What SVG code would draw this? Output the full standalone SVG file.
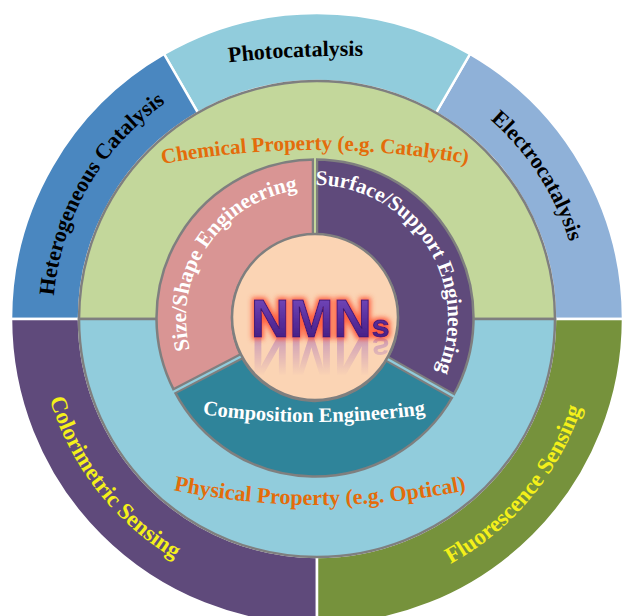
<svg xmlns="http://www.w3.org/2000/svg" width="626" height="616" viewBox="0 0 626 616">
<style>
  .t { font-family: "Liberation Serif", "Times New Roman", serif; font-weight: bold; text-anchor: middle; }
  .out { stroke: #ffffff; stroke-width: 2.5; }
  .ring { stroke: #7f7f7f; stroke-width: 2.5; }
  .blk { fill: #000000; font-size: 22px; }
  .yel { fill: #f4f01a; font-size: 23px; }
  .org { fill: #e46c0a; font-size: 21px; }
  .wht { fill: #ffffff; font-size: 21px; }
  .gapg { stroke: #7f7f7f; stroke-width: 6.5; }
  .nm { font-family: "Liberation Sans", Arial, sans-serif; font-weight: bold; }
</style>
<defs>
  <path id="pPhoto" d="M 206 65.1 Q 296 53.2 386 56.6"/>
  <path id="pHet" d="M 54 342 A 264 264 0 0 1 205.4 79.7"/>
  <path id="pElec" d="M 415.9 74.2 A 264 264 0 0 1 580.8 328.2"/>
  <path id="pColor" d="M 38.4 333.6 A 279 279 0 0 0 235.4 585.8"/>
  <path id="pFluor" d="M 389.2 588.5 A 279 279 0 0 0 594.9 343.3"/>
  <path id="pChem" d="M 150 166.3 A 843 843 0 0 1 480 166.3"/>
  <path id="pPhys" d="M 160 487.25 A 730 730 0 0 0 480 487.25"/>
  <path id="pSize" d="M 193.8 362.1 A 129 129 0 0 1 310.5 189.1"/>
  <path id="pSurf" d="M 303.4 185.5 A 133 133 0 0 1 431.3 382.5"/>
  <path id="pComp" d="M 184 411.4 A 800 800 0 0 0 444 411.4"/>
  <linearGradient id="nmFill" x1="0" y1="0" x2="0" y2="1">
    <stop offset="0" stop-color="#7b52c4"/>
    <stop offset="0.5" stop-color="#5a2f9e"/>
    <stop offset="1" stop-color="#3f1a7a"/>
  </linearGradient>
  <filter id="glow" x="-20%" y="-40%" width="140%" height="180%">
    <feMorphology in="SourceAlpha" operator="dilate" radius="1.5" result="d"/>
    <feGaussianBlur in="d" stdDeviation="2.5" result="b"/>
    <feFlood flood-color="#ff4a2a" flood-opacity="0.85"/>
    <feComposite in2="b" operator="in" result="g"/>
    <feMerge><feMergeNode in="g"/><feMergeNode in="SourceGraphic"/></feMerge>
  </filter>
  <linearGradient id="fade" gradientUnits="userSpaceOnUse" x1="0" y1="338" x2="0" y2="376">
    <stop offset="0" stop-color="#fff" stop-opacity="0.75"/>
    <stop offset="1" stop-color="#fff" stop-opacity="0"/>
  </linearGradient>
  <mask id="refMask" maskUnits="userSpaceOnUse" x="230" y="336" width="180" height="45">
    <rect x="230" y="336" width="180" height="45" fill="url(#fade)"/>
  </mask>
</defs>

<rect width="626" height="616" fill="#ffffff"/>

<g id="outer-ring">
  <path id="electrocatalysis" class="out" fill="#8fb1d8" d="M 623 319 A 306 306 0 0 0 470 54 L 436 112.9 A 238 238 0 0 1 555 319 Z"/>
  <path id="photocatalysis" class="out" fill="#91ccdc" d="M 470 54 A 306 306 0 0 0 164 54 L 198 112.9 A 238 238 0 0 1 436 112.9 Z"/>
  <path id="heterogeneous" class="out" fill="#4a87c0" d="M 164 54 A 306 306 0 0 0 11 319 L 79 319 A 238 238 0 0 1 198 112.9 Z"/>
  <path id="colorimetric" class="out" fill="#5f4a7b" d="M 11 319 A 306 306 0 0 0 317 625 L 317 557 A 238 238 0 0 1 79 319 Z"/>
  <path id="fluorescence" class="out" fill="#76923c" d="M 317 625 A 306 306 0 0 0 623 319 L 555 319 A 238 238 0 0 1 317 557 Z"/>
</g>

<g id="property-ring">
  <path id="chemical" class="ring" fill="#c3d79b" d="M 79 319 A 238 238 0 0 1 555 319 Z"/>
  <path id="physical" class="ring" fill="#91ccdc" d="M 79 319 A 238 238 0 0 0 555 319 Z"/>
</g>

<g id="engineering-ring">
  <path id="size-shape" class="ring" fill="#d99594" d="M 315 159.5 A 158.5 158.5 0 0 0 174.4 391.2 L 241.4 356.3 A 83 83 0 0 1 315 235 Z"/>
  <path id="composition" class="ring" fill="#2f849a" d="M 174.4 391.2 A 158.5 158.5 0 0 0 453 396 L 387.2 358.9 A 83 83 0 0 1 241.4 356.3 Z"/>
  <path id="surface-support" class="ring" fill="#5f4a7b" d="M 453 396 A 158.5 158.5 0 0 0 315 159.5 L 315 235 A 83 83 0 0 1 387.2 358.9 Z"/>
</g>

<g id="separators">
  <line class="gapg" x1="315" y1="160.5" x2="315" y2="236"/>
  <line class="gapg" x1="175.3" y1="390.7" x2="242" y2="356"/>
  <line class="gapg" x1="452.1" y1="395.5" x2="386.5" y2="358.5"/>
  <line stroke="#c3d79b" stroke-width="2" x1="315" y1="157" x2="315" y2="236"/>
  <line stroke="#91ccdc" stroke-width="2.2" x1="172" y1="392.5" x2="242" y2="356"/>
  <line stroke="#91ccdc" stroke-width="2.2" x1="455.2" y1="397.2" x2="386.5" y2="358.5"/>
</g>

<g id="core">
  <circle cx="315" cy="317" r="83" fill="#fbd4b4" stroke="#7f7f7f" stroke-width="2.5"/>
  <g mask="url(#refMask)" opacity="0.8">
    <text class="nm" transform="translate(0,675) scale(1,-1)" x="251" y="337" font-size="53" fill="#b07ab8">NMN<tspan font-size="32">s</tspan></text>
  </g>
  <text class="nm" filter="url(#glow)" x="251" y="337" font-size="53" fill="url(#nmFill)" stroke="#3a1870" stroke-width="1">NMN<tspan font-size="32">s</tspan></text>
</g>

<g id="labels">
  <text class="t blk" font-size="22.5"><textPath href="#pPhoto" startOffset="50%">Photocatalysis</textPath></text>
  <text class="t blk"><textPath href="#pHet" startOffset="50%">Heterogeneous Catalysis</textPath></text>
  <text class="t blk"><textPath href="#pElec" startOffset="50%">Electrocatalysis</textPath></text>
  <text class="t yel"><textPath href="#pColor" startOffset="50%">Colorimetric Sensing</textPath></text>
  <text class="t yel"><textPath href="#pFluor" startOffset="50%">Fluorescence Sensing</textPath></text>
  <text class="t org"><textPath href="#pChem" startOffset="50%">Chemical Property (e.g. Catalytic)</textPath></text>
  <text class="t org" style="font-size:22px"><textPath href="#pPhys" startOffset="50%">Physical Property (e.g. Optical)</textPath></text>
  <text class="t wht" style="font-size:21.5px"><textPath href="#pSize" startOffset="50%">Size/Shape Engineering</textPath></text>
  <text class="t wht" style="font-size:21px"><textPath href="#pSurf" startOffset="50%">Surface/Support Engineering</textPath></text>
  <text class="t wht" style="font-size:20.5px"><textPath href="#pComp" startOffset="50%">Composition Engineering</textPath></text>
</g>
</svg>
